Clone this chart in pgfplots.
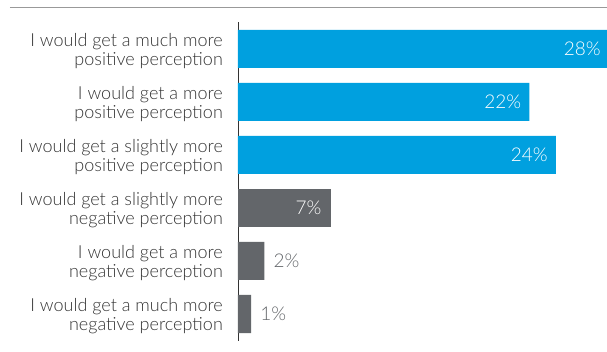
\documentclass[border=0pt]{standalone}
\usepackage{fontspec}
\setmainfont{Lato}[UprightFont={* Light}]
\usepackage{pgfplots}
\pgfplotsset{compat=1.18}
\definecolor{hpblue}{HTML}{00A0DF}
\definecolor{hpgray}{HTML}{63666A}
\definecolor{txt}{HTML}{333333}
\begin{document}
\begin{tikzpicture}
\useasboundingbox (-238pt,-11.5pt) rectangle (369pt,340.5pt);
\draw[line width=1.2pt, color=gray!80] (-228pt,333pt) -- (369pt,333pt);
\begin{axis}[
  at={(0,0)}, anchor=south west,
  scale only axis, width=369pt, height=318pt,
  xbar, bar shift=0pt, bar width=38pt,
  xmin=0, xmax=27.85, ymin=-0.5, ymax=5.5, y dir=reverse,
  axis x line=none, axis y line*=left,
  y axis line style={draw=txt, line width=0.8pt},
  ytick={0,...,5}, xtick=\empty,
  yticklabels={{I would get a much more\\positive perception},
               {I would get a more\\positive perception},
               {I would get a slightly more\\positive perception},
               {I would get a slightly more\\negative perception},
               {I would get a more\\negative perception},
               {I would get a much more\\negative perception}},
  yticklabel style={align=right, font=\fontsize{18}{18.5}\selectfont, text=txt, inner sep=0pt, xshift=-15pt, yshift=-2pt},
  major tick length=0pt,
  clip=false,
  /pgf/number format/assume math mode=true,
  nodes near coords={\pgfmathprintnumber{\pgfplotspointmeta}\%},
  nodes near coords style={font=\fontsize{19}{19}\selectfont, inner sep=0pt},
]
\addplot[fill=hpblue, draw=none, nodes near coords style={anchor=east, text=white, xshift=-8pt}] coordinates {(28,0) (22,1) (24,2)};
\addplot[fill=hpgray, draw=none, nodes near coords style={anchor=east, text=white, xshift=-9pt}] coordinates {(7,3)};
\addplot[fill=hpgray, draw=none, nodes near coords style={anchor=west, text=hpgray, xshift=9pt}] coordinates {(2,4) (1,5)};
\end{axis}
\end{tikzpicture}
\end{document}
